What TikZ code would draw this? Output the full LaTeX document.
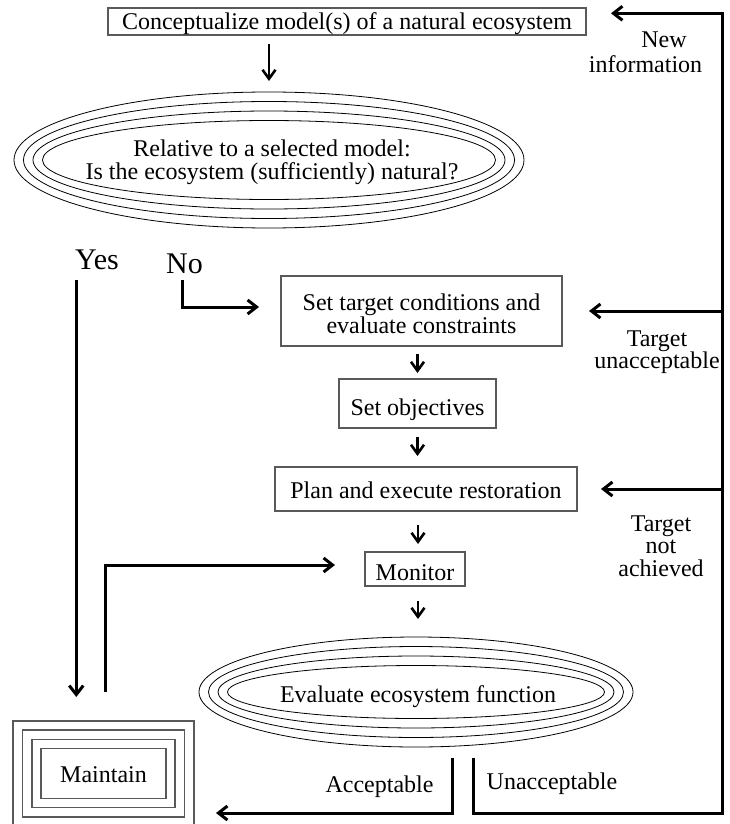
\documentclass[tikz,border=0pt]{standalone}
\usepackage{fontspec}
\setmainfont{Liberation Serif}
\usetikzlibrary{arrows.meta,shapes.geometric}
\begin{document}
\begin{tikzpicture}[x=1pt,y=-1pt,
  txt/.style={font=\fontsize{24}{23}\selectfont, inner sep=0pt, align=center},
  big/.style={font=\fontsize{30}{30}\selectfont, inner sep=0pt},
  box/.style={draw=black!65, line width=1.2pt, inner sep=0pt, outer sep=0pt,
    font=\fontsize{24}{23}\selectfont, align=center},
  ring/.style={draw, ellipse, line width=0.8pt, inner sep=0pt, outer sep=0pt},
  mrect/.style={draw=black!65, line width=1.2pt, inner sep=0pt, outer sep=0pt},
  conn/.style={line width=3pt},
  arr/.style={conn, -{Straight Barb[length=9pt,width=14pt]}},
  sarr/.style={line width=2.6pt, -{Straight Barb[length=9pt,width=13pt]}},
]
\useasboundingbox (0,0) rectangle (729,824);

% top box
\node[box, minimum width=478pt, minimum height=27pt, text height=17pt, text depth=0pt]
  (TOP) at (347,21.5) {Conceptualize model(s) of a natural ecosystem};

% first decision ellipse
\node[ring, minimum width=510pt, minimum height=136pt] (E1) at (269,160) {};
\node[ring, minimum width=491pt, minimum height=117pt] (E1b) at (E1) {};
\node[ring, minimum width=472pt, minimum height=98pt] (E1c) at (E1) {};
\node[ring, minimum width=453pt, minimum height=79pt] (E1d) at (E1) {};
\node[txt] (Q) at (272,162) {Relative to a selected model:\\Is the ecosystem (sufficiently) natural?};

% Yes / No
\node[big, anchor=base] (YesL) at (97,269) {Yes};
\node[big, anchor=base] (NoL) at (184.5,273) {No};

% process boxes
\node[box, minimum width=281pt, minimum height=70pt] (T1) at (421.5,311)
  {\rule{0pt}{23pt}Set target conditions and\\evaluate constraints};
\node[box, minimum width=157pt, minimum height=49pt, text height=23pt, text depth=0pt]
  (OBJ) at (417.5,403.5) {Set objectives};
\node[box, minimum width=302pt, minimum height=44pt, text height=18pt, text depth=0pt]
  (PLAN) at (426,489) {Plan and execute restoration};
\node[box, minimum width=100pt, minimum height=34pt, text height=22pt, text depth=0pt]
  (MON) at (415,569) {Monitor};

% evaluation ellipse
\node[ring, minimum width=434pt, minimum height=110pt] (EV) at (416,692) {};
\node[ring, minimum width=415pt, minimum height=91pt] (EVb) at (EV) {};
\node[ring, minimum width=396pt, minimum height=72pt] (EVc) at (EV) {};
\node[ring, minimum width=377pt, minimum height=53pt] (EVd) at (EV) {};
\node[txt, anchor=base] (EVt) at (418,702) {Evaluate ecosystem function};

% maintain nested boxes
\node[mrect, minimum width=181pt, minimum height=105pt] (M) at (103.5,773.5) {};
\node[mrect, minimum width=162pt, minimum height=87pt] (Mb) at (M) {};
\node[mrect, minimum width=143pt, minimum height=68pt] (Mc) at (M) {};
\node[mrect, minimum width=125pt, minimum height=50pt, font=\fontsize{24}{23}\selectfont,
  text height=18pt, text depth=0pt] (Md) at (M) {Maintain};

% side labels
\node[txt, anchor=north, font=\fontsize{24}{25}\selectfont] (NEW) at (645.5,31.1)
  {\hspace*{37pt}New\\information};
\node[txt, anchor=north, font=\fontsize{24}{21.7}\selectfont] (TU) at (657,330.1)
  {Target\\unacceptable};
\node[txt, anchor=north, font=\fontsize{24}{22.5}\selectfont] (TNA) at (661,515.1)
  {Target\\not\\achieved};
\node[txt, anchor=base] (ACC) at (379.5,792) {Acceptable};
\node[txt, anchor=base] (UNA) at (552,789) {Unacceptable};

% corner coordinates of the feedback loop
\coordinate (RB) at (722,813);
\coordinate (RT) at (722,13.3);

% connectors
\draw[sarr, shorten <=9pt, shorten >=11pt] (TOP.south -| E1.north) -- (E1.north);
\draw[arr, shorten >=24pt] ([xshift=1.3pt,yshift=-11pt]YesL.south west) -- ([xshift=1.3pt]YesL.south west |- M.north);
\draw[arr, shorten >=22pt] ([xshift=-2.5pt,yshift=-7pt]NoL.south) |- ([yshift=4pt]T1.west);
\draw[sarr, shorten <=8pt, shorten >=6pt] (T1.south -| OBJ.north) -- (OBJ.north);
\draw[sarr, shorten <=9pt, shorten >=11pt] (OBJ.south) -- (OBJ.south |- PLAN.north);
\draw[sarr, shorten <=14pt, shorten >=8pt] ([xshift=3pt]MON.north |- PLAN.south) -- ([xshift=3pt]MON.north);
\draw[sarr, shorten <=15pt, shorten >=18pt] ([xshift=3pt]MON.south) -- ([xshift=3pt]MON.south |- EV.north);
\draw[arr, shorten >=30pt] ([xshift=1.5pt,yshift=29pt]M.north) |- ([yshift=4pt]MON.west);
\draw[arr, shorten >=22pt] ([xshift=36pt,yshift=-11pt]EV.south) |- (M.east |- RB);
\draw[arr, shorten >=25pt] ([xshift=57pt,yshift=-11pt]EV.south) |- (RB) -- (RT) -- (TOP.east |- RT);
\draw[arr, shorten >=27pt] (RT |- T1.east) -- (T1.east);
\draw[arr, shorten >=24pt] (RT |- PLAN.east) -- (PLAN.east);
\end{tikzpicture}
\end{document}
